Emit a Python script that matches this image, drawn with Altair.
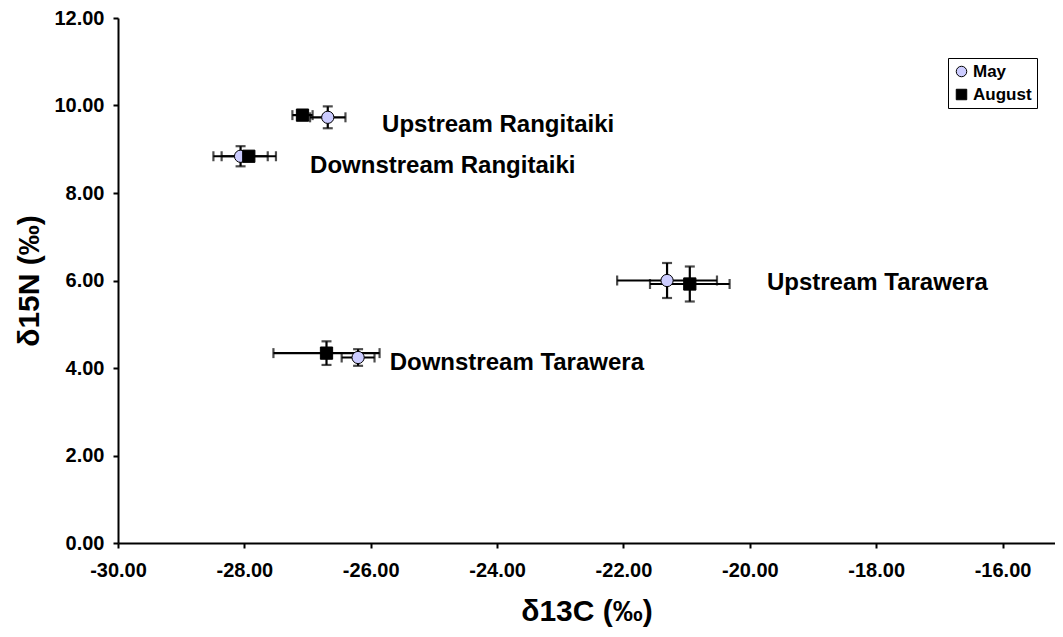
import altair as alt
import pandas as pd

# ---- data ----
sites = ["Upstream Rangitaiki", "Downstream Rangitaiki", "Upstream Tarawera", "Downstream Tarawera"]

may_c13 = [-26.68, -28.06, -21.31, -26.20]
may_n15 = [9.73, 8.84, 6.00, 4.24]
may_c13_err = [0.28, 0.43, 0.79, 0.26]
may_n15_err = [0.25, 0.23, 0.40, 0.19]

aug_c13 = [-27.08, -27.93, -20.95, -26.70]
aug_n15 = [9.78, 8.84, 5.92, 4.34]
aug_c13_err = [0.16, 0.43, 0.63, 0.84]
aug_n15_err = [0.10, 0.10, 0.40, 0.27]

# label anchors (data coordinates)
label_x = [-25.82, -26.96, -19.73, -25.70]
label_y = [9.56, 8.61, 5.94, 4.12]

seasons = ["May", "August"]
season_colors = ["#CCCCFF", "#000000"]
season_shapes = ["circle", "square"]

x_ticks = [-30, -28, -26, -24, -22, -20, -18, -16]
y_ticks = [0, 2, 4, 6, 8, 10, 12]

rows = []
for season, cx, ny, cxe, nye in [
    ("May", may_c13, may_n15, may_c13_err, may_n15_err),
    ("August", aug_c13, aug_n15, aug_c13_err, aug_n15_err),
]:
    for i, s in enumerate(sites):
        rows.append({
            "season": season, "site": s,
            "x": cx[i], "y": ny[i],
            "xlo": cx[i] - cxe[i], "xhi": cx[i] + cxe[i],
            "ylo": ny[i] - nye[i], "yhi": ny[i] + nye[i],
            "order": 0 if season == "May" else 1,
        })
df = pd.DataFrame(rows)
labels = pd.DataFrame({"site": sites, "lx": label_x, "ly": label_y})

FONT = "Liberation Sans"
xscale = alt.Scale(domain=[-30, -15.17], nice=False, zero=False)
yscale = alt.Scale(domain=[0, 12], nice=False, zero=False)

LBL = "replace(format(datum.value, '.2f'), '\u2212', '-')"

xax = alt.X("x:Q", scale=xscale, title="δ13C (‰)",
            axis=alt.Axis(values=x_ticks, labelExpr=LBL, labelFlush=False,
                          labelPadding=12, titlePadding=16))
yax = alt.Y("y:Q", scale=yscale, title="δ15N (‰)",
            axis=alt.Axis(values=y_ticks, labelExpr=LBL, labelFlush=False,
                          labelPadding=9, titlePadding=9))

base = alt.Chart(df)

hbar = base.mark_rule(color="black", strokeWidth=2.2).encode(
    x=alt.X("xlo:Q", scale=xscale), x2="xhi:Q", y=alt.Y("y:Q", scale=yscale))
vbar = base.mark_rule(color="black", strokeWidth=2.2).encode(
    x=alt.X("x:Q", scale=xscale), y=alt.Y("ylo:Q", scale=yscale), y2="yhi:Q")

cap_lo_x = base.mark_tick(color="black", orient="vertical", size=10, thickness=2.2).encode(
    x=alt.X("xlo:Q", scale=xscale), y=alt.Y("y:Q", scale=yscale))
cap_hi_x = base.mark_tick(color="black", orient="vertical", size=10, thickness=2.2).encode(
    x=alt.X("xhi:Q", scale=xscale), y=alt.Y("y:Q", scale=yscale))
cap_lo_y = base.mark_tick(color="black", orient="horizontal", size=10, thickness=2.2).encode(
    x=alt.X("x:Q", scale=xscale), y=alt.Y("ylo:Q", scale=yscale))
cap_hi_y = base.mark_tick(color="black", orient="horizontal", size=10, thickness=2.2).encode(
    x=alt.X("x:Q", scale=xscale), y=alt.Y("yhi:Q", scale=yscale))

points = base.mark_point(filled=True, strokeWidth=1, size=150, opacity=1).encode(
    x=xax, y=yax,
    shape=alt.Shape("season:N", scale=alt.Scale(domain=seasons, range=season_shapes),
                    legend=alt.Legend(title=None, orient="none", legendX=830, legendY=40,
                                      strokeColor="black", fillColor="white", padding=5,
                                      labelFontSize=17, labelFont=FONT, labelFontWeight="bold",
                                      labelColor="black", symbolSize=110, symbolStrokeColor="black",
                                      symbolStrokeWidth=1, rowPadding=5, labelOffset=3,
                                      cornerRadius=0)),
    fill=alt.Fill("season:N", scale=alt.Scale(domain=seasons, range=season_colors), legend=None),
    stroke=alt.Stroke("season:N", scale=alt.Scale(domain=seasons, range=["black", "black"]), legend=None),
    order=alt.Order("order:Q"),
)

text = alt.Chart(labels).mark_text(align="left", baseline="middle", fontSize=24,
                                    fontWeight="bold", font=FONT, color="black").encode(
    x=alt.X("lx:Q", scale=xscale), y=alt.Y("ly:Q", scale=yscale), text="site:N")

chart = alt.layer(hbar, vbar, cap_lo_x, cap_hi_x, cap_lo_y, cap_hi_y, points, text).properties(
    width=937, height=525,
    autosize=alt.AutoSizeParams(type="none"),
    padding={"left": 110, "top": 10, "right": 0, "bottom": 94},
).configure_view(stroke=None).configure_axis(
    grid=False, domainColor="black", domainWidth=2, tickColor="black", tickWidth=2, tickSize=5,
    labelFont=FONT, labelFontWeight="bold", labelFontSize=20, labelColor="black",
    titleFont=FONT, titleFontWeight="bold", titleFontSize=30, titleColor="black",
)

chart.save("out.html", embed_options={"renderer": "svg", "actions": False})
